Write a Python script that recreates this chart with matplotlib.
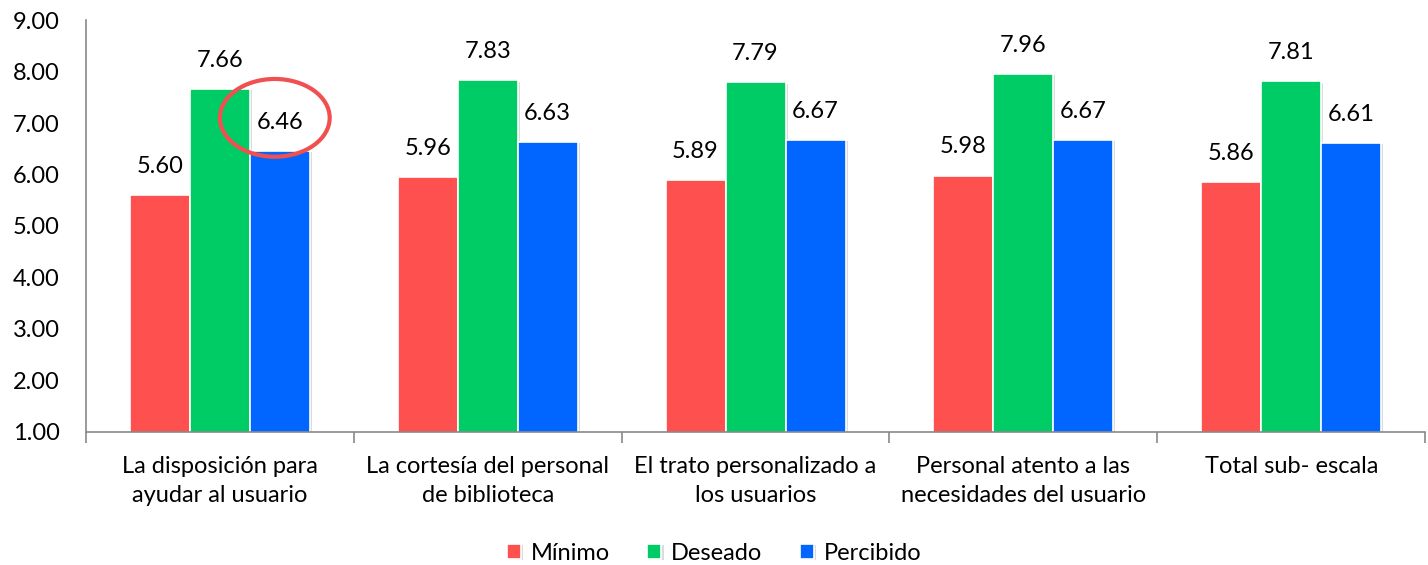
import numpy as np
import matplotlib.pyplot as plt
from matplotlib.patches import Ellipse
import matplotlib.patheffects as pe

plt.rcParams['font.family'] = ['Lato', 'DejaVu Sans']

categories = ["La disposición para\nayudar al usuario",
              "La cortesía del personal\nde biblioteca",
              "El trato personalizado a\nlos usuarios",
              "Personal atento a las\nnecesidades del usuario",
              "Total sub- escala"]
minimo = [5.60, 5.96, 5.89, 5.98, 5.86]
deseado = [7.66, 7.83, 7.79, 7.96, 7.81]
percibido = [6.46, 6.63, 6.67, 6.67, 6.61]
series = [("Mínimo", minimo, "#FF5050"),
          ("Deseado", deseado, "#00CC66"),
          ("Percibido", percibido, "#0066FF")]

fig = plt.figure(figsize=(14.28, 5.65), dpi=100)
ax = fig.add_axes([0.0602, 0.2354, 0.9378, 0.7292])

x = np.arange(len(categories))
step = 0.224
shadow = [pe.SimplePatchShadow(offset=(1.5, -1), shadow_rgbFace='#999999', alpha=0.35), pe.Normal()]
for i, (name, vals, col) in enumerate(series):
    pos = x + (i - 1) * step
    bars = ax.bar(pos, vals, width=step, color=col, edgecolor='white', linewidth=1.2,
                  label=name, path_effects=shadow)
    for xp, v in zip(pos, vals):
        ax.annotate(f"{v:.2f}", (xp, v), xytext=(0, 13), textcoords='offset points',
                    ha='center', va='bottom', fontsize=17)

ax.set_xlim(-0.5, len(categories) - 0.5)
ax.set_ylim(1, 9)
ax.set_yticks(np.arange(1, 10, 1))
ax.set_yticklabels([f"{v:.2f}" for v in np.arange(1, 10, 1)])
ax.tick_params(axis='y', length=0, pad=19, labelsize=17)

ax.set_xticks(x)
ax.set_xticklabels(categories, fontsize=17, linespacing=1.5)
ax.set_xticks(np.arange(-0.5, len(categories)), minor=True)
ax.tick_params(axis='x', which='major', length=0, pad=17)
ax.tick_params(axis='x', which='minor', length=8, color='#898989', width=1.2)

for s in ['top', 'right']:
    ax.spines[s].set_visible(False)
for s in ['left', 'bottom']:
    ax.spines[s].set_color('#898989')
    ax.spines[s].set_linewidth(1.2)

# highlight circle around the 6.46 label
ax.add_patch(Ellipse((0.205, 7.10), 0.41, 1.51, fill=False, edgecolor='#F0504F',
                     linewidth=3, clip_on=False, zorder=5))

fig.legend(loc='center', bbox_to_anchor=(0.5, 0.021), ncol=3, frameon=False,
           fontsize=17, handlelength=0.6, handleheight=0.6, handletextpad=0.4,
           columnspacing=1.6)

fig.savefig("out.png", dpi=100)
